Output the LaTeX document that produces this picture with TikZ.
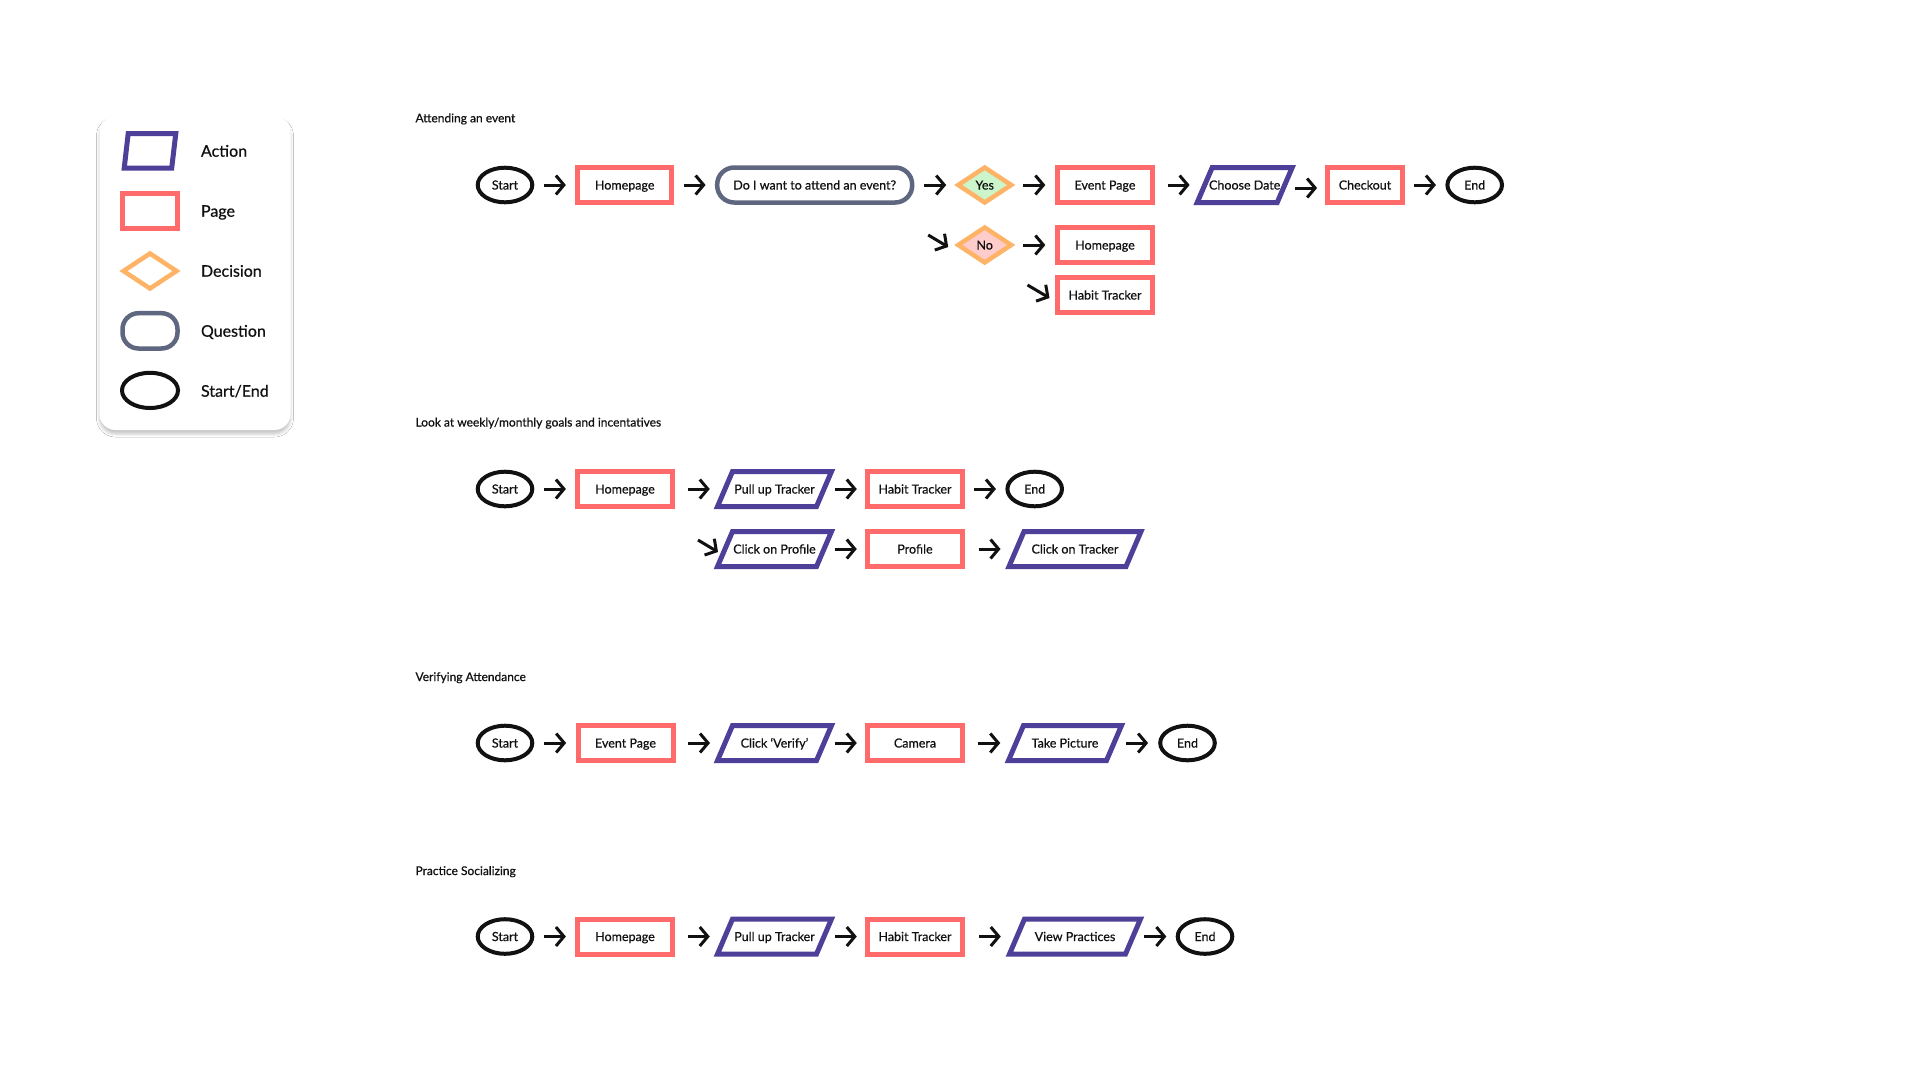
\documentclass[tikz,border=0pt]{standalone}
\usepackage{fontspec}
\setmainfont{Lato}[FakeBold=0.6]
\usetikzlibrary{arrows.meta,calc,shapes.geometric,shadows.blur}
\definecolor{actc}{HTML}{4E3F99}
\definecolor{pagec}{HTML}{FF6B6B}
\definecolor{decc}{HTML}{FFB366}
\definecolor{quec}{HTML}{5F6780}
\definecolor{endc}{HTML}{111111}
\definecolor{yesc}{HTML}{CCF5CC}
\definecolor{noc}{HTML}{FFCCCC}
\definecolor{txtc}{HTML}{111111}
\tikzset{
  base/.style={inner sep=0pt, outer sep=0pt, text=txtc, font=\fontsize{12.5}{14}\selectfont, text height=9pt, text depth=0pt, align=center},
  page/.style={base, draw=pagec, line width=5pt, minimum height=35pt},
  strt/.style={base, ellipse, draw=endc, line width=4pt, minimum width=54.6pt, minimum height=34.6pt},
  ques/.style={base, draw=quec, line width=4.5pt, rounded corners=17pt, minimum height=35pt},
  actb/.style={base, minimum height=35pt},
  actline/.style={draw=actc, line width=5pt},
  decline/.style={draw=decc, line width=4.5pt},
  pageline/.style={draw=pagec, line width=5pt},
  queline/.style={draw=quec, line width=4.5pt},
  endline/.style={draw=endc, line width=4pt},
  arr/.style={draw=endc, line width=3pt, -{Straight Barb[length=8pt,width=19pt]}},
  titl/.style={inner sep=0pt, outer sep=0pt, text=txtc, font=\fontsize{12}{14}\selectfont},
  legt/.style={inner sep=0pt, outer sep=0pt, text=txtc, font=\fontsize{16}{19}\selectfont},
}
\newcommand\actn[5]{%
  \node[actb, minimum width=#4] (#1) at (#2,#3) {#5};
  \draw[actline] ([xshift=7.5pt]#1.north west) -- ([xshift=7.5pt]#1.north east) -- ([xshift=-7.5pt]#1.south east) -- ([xshift=-7.5pt]#1.south west) -- cycle;}
\newcommand\decn[5]{%
  \draw[decline, fill=#4] (#2,#3) +(-26.5,0) -- +(0,-17.5) -- +(26.5,0) -- +(0,17.5) -- cycle;
  \node[base, minimum width=53pt, minimum height=35pt] (#1) at (#2,#3) {#5};}
\newcommand\fl[3][0]{\draw[arr] ($(#2.east)!0.5!(#3.west)+(-11,#1)$) -- ($(#2.east)!0.5!(#3.west)+(11,#1)$);}
\begin{document}
\begin{tikzpicture}[x=1pt,y=-1pt]
\fill[white] (0,0) rectangle (1920,1080);
\useasboundingbox (0,0) rectangle (1920,1080);

% legend card
\fill[white, rounded corners=16pt, blur shadow={shadow xshift=0pt, shadow yshift=-4pt, shadow blur radius=3pt, shadow opacity=22}] (99.5,116) rectangle (290.5,430);
\draw[actline] (128.2,133.5) -- (175.8,133.5) -- (171.7,168.2) -- (124.2,168.2) -- cycle;
\draw[pageline] (122.5,193.5) rectangle (177.5,228.2);
\draw[decline] (150,271) +(-26.5,0) -- +(0,-17.5) -- +(26.5,0) -- +(0,17.5) -- cycle;
\draw[queline, rounded corners=16pt] (122.5,313.2) rectangle (177.5,348.5);
\draw[endline] (150,390.4) ellipse [x radius=28, y radius=17.6];
\node[legt, anchor=base west] (la) at (201,156.7) {Action};
\node[legt, anchor=base west] (lb) at (201,216.7) {Page};
\node[legt, anchor=base west] (lc) at (201,276.7) {Decision};
\node[legt, anchor=base west] (ld) at (201,336.7) {Question};
\node[legt, anchor=base west] (le) at (201,396.7) {Start/End};

% titles
\node[titl, anchor=base west] (t1) at (415.5,122.3) {Attending an event};
\node[titl, anchor=base west] (t2) at (415.5,426.5) {Look at weekly/monthly goals and incentatives};
\node[titl, anchor=base west] (t3) at (415.5,681) {Verifying Attendance};
\node[titl, anchor=base west] (t4) at (415.5,875) {Practice Socializing};

% row 1
\node[strt] (s1) at (505,185) {Start};
\node[page, minimum width=94.5] (h1) at (624.7,185) {Homepage};
\node[ques, minimum width=195] (q1) at (814.7,185) {Do I want to attend an event?};
\decn{y1}{984.7}{185}{yesc}{Yes}
\node[page, minimum width=95] (e1) at (1105,185) {Event Page};
\actn{c1}{1244.7}{185}{80}{Choose Date}
\node[page, minimum width=75] (k1) at (1365,185) {Checkout};
\node[strt] (z1) at (1474.7,185) {End};
\decn{n1}{984.7}{245}{noc}{No}
\node[page, minimum width=95] (h1b) at (1105,245) {Homepage};
\node[page, minimum width=95] (t1b) at (1105,295) {Habit Tracker};
\fl{s1}{h1}
\fl{h1}{q1}
\fl{q1}{y1}
\fl{y1}{e1}
\fl{e1}{c1}
\fl[3]{c1}{k1}
\fl{k1}{z1}
\fl{n1}{h1b}
\draw[arr] ($(n1.west)+(-30,-10)$) -- ($(n1.west)+(-10,2)$);
\draw[arr] ($(t1b.west)+(-30,-10)$) -- ($(t1b.west)+(-8,3)$);

% row 2
\node[strt] (s2) at (505,489) {Start};
\node[page, minimum width=95] (h2) at (625,489) {Homepage};
\actn{p2}{774.5}{489}{99}{Pull up Tracker}
\node[page, minimum width=95] (ht2) at (915,489) {Habit Tracker};
\node[strt] (z2) at (1034.7,489) {End};
\actn{cp2}{774.5}{549}{99}{Click on Profile}
\node[page, minimum width=95] (pr2) at (915,549) {Profile};
\actn{ct2}{1075}{549}{117}{Click on Tracker}
\fl{s2}{h2}
\fl{h2}{p2}
\fl{p2}{ht2}
\fl{ht2}{z2}
\fl{cp2}{pr2}
\fl{pr2}{ct2}
\draw[arr] ($(cp2.west)+(-27,-9)$) -- ($(cp2.west)+(-7,3)$);

% row 3
\node[strt] (s3) at (505,743) {Start};
\node[page, minimum width=95] (ep3) at (625.5,743) {Event Page};
\actn{cv3}{774.5}{743}{99}{Click ‘Verify’}
\node[page, minimum width=95] (ca3) at (915,743) {Camera};
\actn{tp3}{1065}{743}{98}{Take Picture}
\node[strt] (z3) at (1187.5,743) {End};
\fl{s3}{ep3}
\fl{ep3}{cv3}
\fl{cv3}{ca3}
\fl{ca3}{tp3}
\fl{tp3}{z3}

% row 4
\node[strt] (s4) at (505,936.5) {Start};
\node[page, minimum width=95] (h4) at (625,936.5) {Homepage};
\actn{p4}{774.5}{936.5}{99}{Pull up Tracker}
\node[page, minimum width=95] (ht4) at (915,936.5) {Habit Tracker};
\actn{vp4}{1075}{936.5}{116}{View Practices}
\node[strt] (z4) at (1205,936.5) {End};
\fl{s4}{h4}
\fl{h4}{p4}
\fl{p4}{ht4}
\fl{ht4}{vp4}
\fl{vp4}{z4}
\end{tikzpicture}
\end{document}
